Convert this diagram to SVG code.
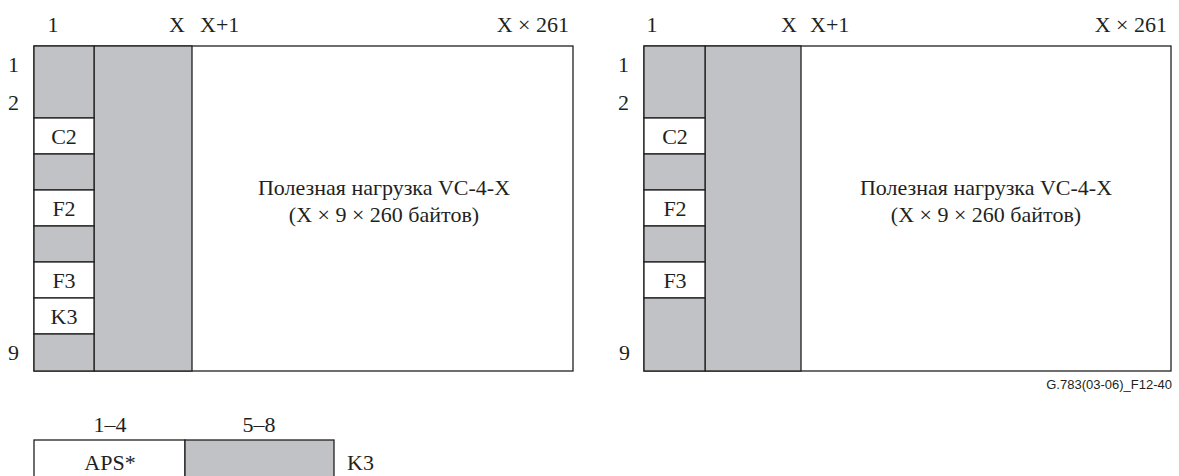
<svg xmlns="http://www.w3.org/2000/svg" width="1179" height="476" viewBox="0 0 1179 476">
<style>
.t{font-size:22px;fill:#231f20}
.m{text-anchor:middle}
.e{text-anchor:end}
.g{fill:#c1c2c6;stroke:#231f20;stroke-width:1.3}
.w{fill:#fff;stroke:#231f20;stroke-width:1.3}
.s{font-size:13px;fill:#231f20}
</style>
<rect width="1179" height="476" fill="#fff"/>
<g id="left-frame" font-family="Liberation Serif, Tinos, Times New Roman, DejaVu Serif, Noto Serif, FreeSerif, serif">
<rect class="w" x="34" y="46" width="539" height="325"/>
<rect class="g" x="94" y="46" width="98" height="325"/>
<rect class="g" x="34" y="46" width="60" height="72"/>
<rect class="w" x="34" y="118" width="60" height="36"/>
<rect class="g" x="34" y="154" width="60" height="36"/>
<rect class="w" x="34" y="190" width="60" height="36"/>
<rect class="g" x="34" y="226" width="60" height="36"/>
<rect class="w" x="34" y="262" width="60" height="36"/>
<rect class="w" x="34" y="298" width="60" height="36"/>
<rect class="g" x="34" y="334" width="60" height="37"/>
<text class="t m" x="64" y="144">C2</text>
<text class="t m" x="64" y="216">F2</text>
<text class="t m" x="64" y="288">F3</text>
<text class="t m" x="64" y="324">K3</text>
<text class="t m" x="53" y="32">1</text>
<text class="t" x="169" y="32">X</text>
<text class="t" x="200" y="32">X+1</text>
<text class="t e" x="569" y="32">X × 261</text>
<text class="t" x="8" y="72">1</text>
<text class="t" x="8" y="110">2</text>
<text class="t" x="8" y="360">9</text>
<text class="t m" x="384" y="195">Полезная нагрузка VC-4-X</text>
<text class="t m" x="384" y="222">(X × 9 × 260 байтов)</text>
</g>
<g id="right-frame" font-family="Liberation Serif, Tinos, Times New Roman, DejaVu Serif, Noto Serif, FreeSerif, serif">
<rect class="w" x="644" y="46" width="527" height="325"/>
<rect class="g" x="705" y="46" width="96" height="325"/>
<rect class="g" x="644" y="46" width="61" height="72"/>
<rect class="w" x="644" y="118" width="61" height="36"/>
<rect class="g" x="644" y="154" width="61" height="36"/>
<rect class="w" x="644" y="190" width="61" height="36"/>
<rect class="g" x="644" y="226" width="61" height="36"/>
<rect class="w" x="644" y="262" width="61" height="36"/>
<rect class="g" x="644" y="298" width="61" height="73"/>
<text class="t m" x="675" y="144">C2</text>
<text class="t m" x="675" y="216">F2</text>
<text class="t m" x="675" y="288">F3</text>
<text class="t m" x="652" y="32">1</text>
<text class="t" x="781" y="32">X</text>
<text class="t" x="810" y="32">X+1</text>
<text class="t e" x="1167" y="32">X × 261</text>
<text class="t" x="618" y="72">1</text>
<text class="t" x="618" y="110">2</text>
<text class="t" x="619" y="360">9</text>
<text class="t m" x="986" y="195">Полезная нагрузка VC-4-X</text>
<text class="t m" x="986" y="222">(X × 9 × 260 байтов)</text>
<text class="s e" x="1172" y="389" font-family="Liberation Sans, Arial, sans-serif">G.783(03-06)_F12-40</text>
</g>
<g id="k3-detail" font-family="Liberation Serif, Tinos, Times New Roman, DejaVu Serif, Noto Serif, FreeSerif, serif">
<rect class="w" x="34" y="440" width="151" height="44"/>
<rect class="g" x="185" y="440" width="149" height="44"/>
<text class="t m" x="110" y="432">1–4</text>
<text class="t m" x="259" y="432">5–8</text>
<text class="t m" x="110" y="470">APS*</text>
<text class="t" x="347" y="470">K3</text>
</g>
<g id="connectors"/>
</svg>
